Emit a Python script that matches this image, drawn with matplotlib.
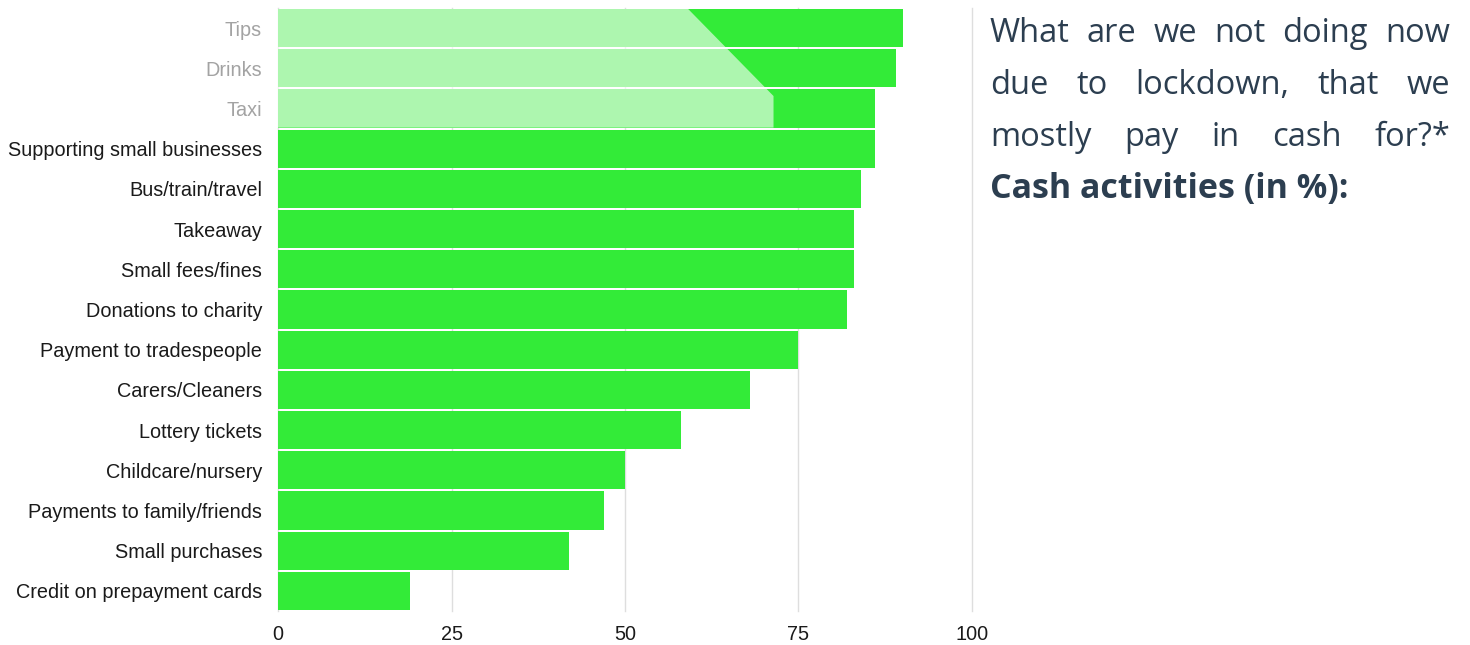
import matplotlib
matplotlib.use("Agg")
import matplotlib.pyplot as plt
from matplotlib.patches import Polygon

# survey answers, top to bottom
categories = ["Tips", "Drinks", "Taxi", "Supporting small businesses", "Bus/train/travel",
              "Takeaway", "Small fees/fines", "Donations to charity", "Payment to tradespeople",
              "Carers/Cleaners", "Lottery tickets", "Childcare/nursery",
              "Payments to family/friends", "Small purchases", "Credit on prepayment cards"]
values = [90, 89, 86, 86, 84, 83, 83, 82, 75, 68, 58, 50, 47, 42, 19]
xticks = [0, 25, 50, 75, 100]

title_lines = ["What are we not doing now", "due to lockdown, that we", "mostly pay in cash for?*"]
subtitle = "Cash activities (in %):"

green = "#33eb38"
navy = "#2c3e50"

fig = plt.figure(figsize=(14.7, 6.45), dpi=100)
ax = fig.add_axes([278 / 1470, 1 - 611 / 645, (972 - 278) / 1470, (611 - 8) / 645])

ypos = list(range(len(categories)))
for x in xticks:
    ax.axvline(x, color="#dedede", linewidth=1, zorder=0, clip_on=False)
ax.barh(ypos, values, height=0.95, color=green, zorder=2)
ax.set_xlim(0, 100)
ax.set_ylim(len(categories) - 0.5, -0.5)
ax.set_xticks(xticks)
ax.set_yticks(ypos)
ax.set_yticklabels(categories, fontsize=14.3, color="#1a1a1a", family="Liberation Sans")
ax.set_xticklabels([str(t) for t in xticks], fontsize=14.3, color="#1a1a1a", family="Liberation Sans")
ax.tick_params(axis="y", length=0, pad=11.5)
ax.tick_params(axis="x", length=0, pad=10)
for s in ax.spines.values():
    s.set_visible(False)

# white veil over the top three rows (covers labels too)
veil = Polygon([(-40, -0.475), (59.1, -0.475), (71.4, 1.69), (71.4, 2.475), (-40, 2.475)],
               closed=True, facecolor="white", alpha=0.6, edgecolor="none",
               zorder=10, clip_on=False, transform=ax.transData)
ax.add_patch(veil)

# justified title block on the right
fig.canvas.draw()
renderer = fig.canvas.get_renderer()
x0, x1 = 990, 1450
H = 645
y_lines = [34, 86, 137]
for line, yc in zip(title_lines, y_lines):
    words = line.split()
    texts = [fig.text(0, 0, w, fontsize=23.5, family="Open Sans", weight="normal", color=navy,
                      va="center", ha="left") for w in words]
    widths = [t.get_window_extent(renderer).width for t in texts]
    gap = (x1 - x0 - sum(widths)) / (len(words) - 1)
    x = x0
    for t, w in zip(texts, widths):
        t.set_position((x / 1470, 1 - yc / H))
        x += w + gap

fig.text(x0 / 1470, 1 - 189 / H, subtitle, fontsize=24.5, family="Open Sans", weight="bold",
         color=navy, va="center", ha="left")

fig.savefig("out.png", dpi=100)
